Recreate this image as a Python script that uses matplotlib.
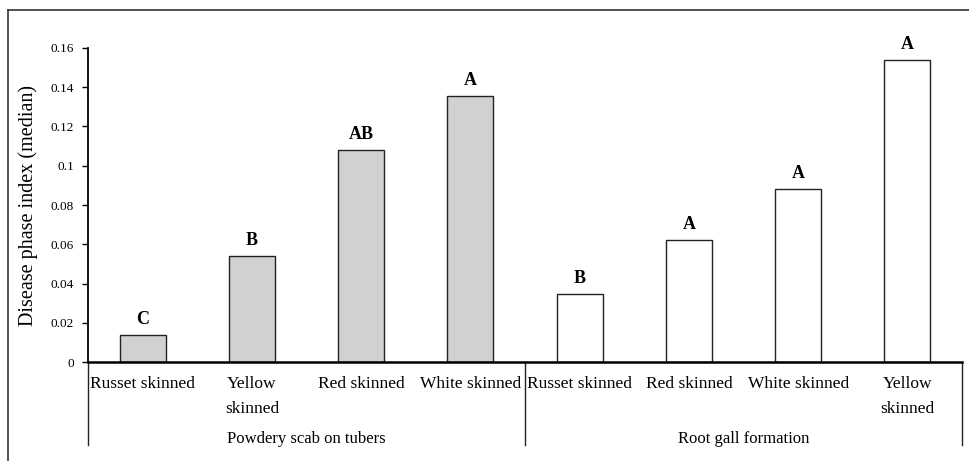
import matplotlib.pyplot as plt
from matplotlib.lines import Line2D

plt.rcParams['font.family'] = ['Liberation Serif', 'DejaVu Serif']

categories = ['Russet skinned', 'Yellow\nskinned', 'Red skinned', 'White skinned',
              'Russet skinned', 'Red skinned', 'White skinned', 'Yellow\nskinned']
values = [0.0136, 0.054, 0.108, 0.1355, 0.0348, 0.0622, 0.088, 0.154]
letters = ['C', 'B', 'AB', 'A', 'B', 'A', 'A', 'A']
groups = ['Powdery scab on tubers', 'Root gall formation']
colors = ['#d0d2d1'] * 4 + ['white'] * 4

fig = plt.figure(figsize=(9.69, 4.61), dpi=100)
ax = fig.add_axes([88/969, 99/461, 874/969, 314/461])

x = range(len(values))
ax.bar(x, values, width=0.42, color=colors, edgecolor='#222222', linewidth=1.0)
for xi, v, t in zip(x, values, letters):
    ax.text(xi, v + 0.0035, t, ha='center', va='bottom', fontsize=13, fontweight='bold')

ax.set_xlim(-0.5, 7.5)
ax.set_ylim(0, 0.16)
ax.set_yticks([0, 0.02, 0.04, 0.06, 0.08, 0.1, 0.12, 0.14, 0.16])
ax.set_yticklabels(['0', '0.02', '0.04', '0.06', '0.08', '0.1', '0.12', '0.14', '0.16'], fontsize=9.5)
ax.set_xticks(list(x))
ax.set_xticklabels(categories, fontsize=12.5, linespacing=1.75, va='top')
ax.tick_params(axis='x', length=0, pad=10)
ax.tick_params(axis='y', length=4, width=1, direction='out', pad=6)
ax.set_ylabel('Disease phase index (median)', fontsize=14.5, labelpad=9)

for s in ['top', 'right']:
    ax.spines[s].set_visible(False)
ax.spines['left'].set_linewidth(1.3)
ax.spines['bottom'].set_linewidth(1.8)

# group separators and labels below the axis
for xf in [0, 0.5, 1.0]:
    ax.plot([xf, xf], [0, -0.264], transform=ax.transAxes, color='#222222',
            linewidth=1.0, clip_on=False)
ax.text(0.25, -0.245, groups[0], transform=ax.transAxes, ha='center', va='center', fontsize=12)
ax.text(0.75, -0.245, groups[1], transform=ax.transAxes, ha='center', va='center', fontsize=12)

# outer frame (left and top edges visible)
fig.add_artist(Line2D([8/969, 8/969], [0, 1 - 10/461], color='#333333', linewidth=1.2))
fig.add_artist(Line2D([8/969, 1], [1 - 10/461, 1 - 10/461], color='#333333', linewidth=1.2))

fig.savefig('out.png', dpi=100)
